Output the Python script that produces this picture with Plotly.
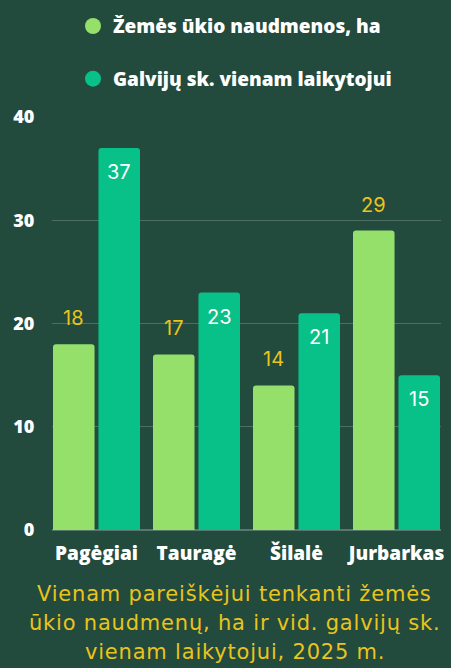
import plotly.graph_objects as go

# Districts and their indicators (2025)
districts = ["Pagėgiai", "Tauragė", "Šilalė", "Jurbarkas"]
land_ha = [18, 17, 14, 29]            # agricultural land per applicant, ha
cattle_per_keeper = [37, 23, 21, 15]  # average cattle per keeper

series_names = ["Žemės ūkio naudmenos, ha", "Galvijų sk. vienam laikytojui"]
caption_lines = [
    "Vienam pareiškėjui tenkanti žemės",
    "ūkio naudmenų, ha ir vid. galvijų sk.",
    "vienam laikytojui, 2025 m.",
]

BG = "#224a3d"
LIGHT = "#94e06b"
DARK = "#07c188"
YELLOW = "#e9c41c"

x_pos = list(range(len(districts)))
GROUP_W = 0.87                 # share of a category taken by the bar pair
SLOT = GROUP_W / 2             # share of one bar
BAR_W = SLOT * 0.955

fig = go.Figure()

fig.add_trace(go.Bar(
    x=x_pos, y=land_ha, name=series_names[0],
    width=BAR_W, offset=-GROUP_W / 2,
    marker=dict(color=LIGHT, line=dict(width=0)),
    showlegend=False,
))
fig.add_trace(go.Bar(
    x=x_pos, y=cattle_per_keeper, name=series_names[1],
    width=BAR_W, offset=-GROUP_W / 2 + SLOT + (SLOT - BAR_W),
    marker=dict(color=DARK, line=dict(width=0)),
    showlegend=False,
))

# value labels: above the light bars, inside the top of the dark bars
for xi, v in zip(x_pos, land_ha):
    fig.add_annotation(
        x=xi - GROUP_W / 2 + BAR_W / 2, y=v, xref="x", yref="y",
        text=str(v), showarrow=False, yanchor="bottom", yshift=12,
        font=dict(color=YELLOW, size=20, family="Inter"),
    )
for xi, v in zip(x_pos, cattle_per_keeper):
    fig.add_annotation(
        x=xi - GROUP_W / 2 + SLOT + (SLOT - BAR_W) + BAR_W / 2, y=v,
        xref="x", yref="y",
        text=str(v), showarrow=False, yanchor="top", yshift=-10,
        font=dict(color="white", size=20, family="Inter"),
    )

# Legend entries with round markers
for i, (nm, col) in enumerate(zip(series_names, [LIGHT, DARK])):
    fig.add_trace(go.Scatter(
        x=[None], y=[None], mode="markers", name=nm,
        marker=dict(symbol="circle", size=20, color=col),
        legendgroup=f"g{i}", showlegend=True,
    ))

for i, line in enumerate(caption_lines):
    fig.add_annotation(
        text=f'<span style="letter-spacing:0.8px">{line}</span>',
        xref="paper", yref="paper",
        x=(236 - 52) / 392, y=-(594 - 530 + 29 * i) / 414,
        xanchor="center", yanchor="middle", showarrow=False,
        font=dict(color=YELLOW, size=21, family="DejaVu Sans"),
    )

BOLD = dict(color="white", family="Open Sans", weight=800)

fig.update_layout(
    width=451, height=668,
    margin=dict(l=52, r=7, t=116, b=138),
    paper_bgcolor=BG, plot_bgcolor=BG,
    barmode="overlay",
    barcornerradius=3,
    legend=dict(
        x=0.054, y=1.266, xanchor="left", yanchor="top",
        font=dict(size=19, **BOLD),
        tracegroupgap=25, bgcolor="rgba(0,0,0,0)",
    ),
    xaxis=dict(
        range=[-0.445, 3.445], tickmode="array", tickvals=x_pos,
        ticktext=districts, showgrid=False, zeroline=False,
        tickfont=dict(size=19, **BOLD),
        ticks="outside", ticklen=6, tickcolor="rgba(0,0,0,0)",
    ),
    yaxis=dict(
        range=[0, 40], tickvals=[0, 10, 20, 30, 40],
        gridcolor="rgba(255,255,255,0.2)", gridwidth=1,
        zeroline=True, zerolinecolor="rgba(255,255,255,0.25)",
        tickfont=dict(size=18, **BOLD),
        ticks="outside", ticklen=13, tickcolor="rgba(0,0,0,0)",
    ),
)

fig.write_html("out.html")
